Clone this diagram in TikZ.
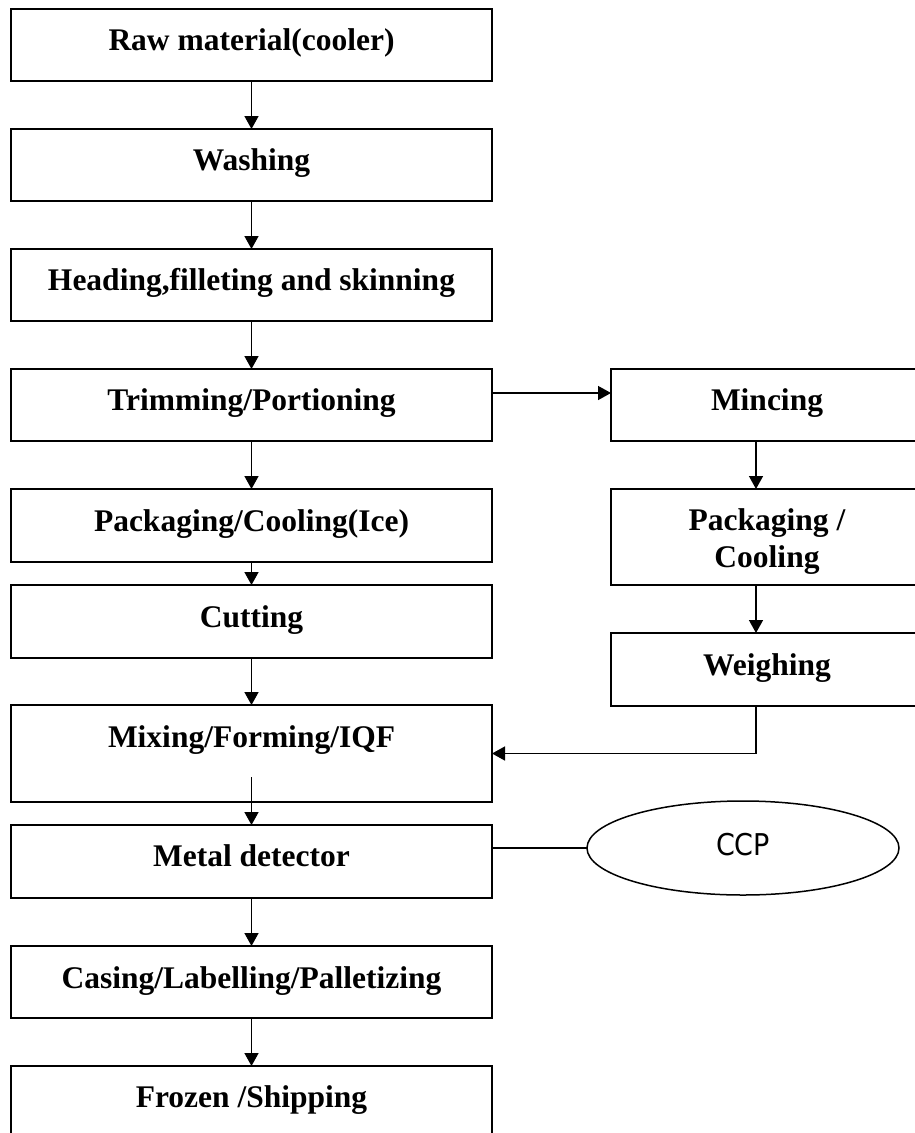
\documentclass[tikz,border=0pt]{standalone}
\usepackage{fontspec}
\setmainfont{Liberation Serif}
\newfontfamily\ccpfont[FakeStretch=0.9]{DejaVu Sans}
\usetikzlibrary{arrows.meta,shapes.geometric}
\tikzset{
  stepbox/.style={draw=black, line width=1.5pt, rectangle, inner sep=0pt, outer sep=0pt},
  lbox/.style={stepbox, minimum width=481pt},
  rbox/.style={stepbox, minimum width=312pt},
  txt/.style={anchor=base, inner sep=0pt, font=\bfseries\fontsize{31.5}{37}\selectfont, align=center},
  arr/.style={line width=1.5pt, -{Triangle[length=13pt,width=14pt]}},
  conn/.style={line width=1.5pt},
}
\begin{document}
\begin{tikzpicture}[x=1pt,y=-1pt]
\useasboundingbox (0,0) rectangle (915,1133);
\clip (0,0) rectangle (915,1133);
% left column boxes
\node[lbox, minimum height=72pt] (b1) at (251.5,45) {};
\node[lbox, minimum height=72pt] (b2) at (251.5,165) {};
\node[lbox, minimum height=72pt] (b3) at (251.5,285) {};
\node[lbox, minimum height=72pt] (b4) at (251.5,405) {};
\node[lbox, minimum height=73pt] (b5) at (251.5,525.5) {};
\node[lbox, minimum height=73pt] (b6) at (251.5,621.5) {};
\node[lbox, minimum height=97pt] (b7) at (251.5,753.5) {};
\node[lbox, minimum height=73pt] (b8) at (251.5,861.5) {};
\node[lbox, minimum height=72pt] (b9) at (251.5,982) {};
\node[lbox, minimum height=72pt] (b10) at (251.5,1102) {};
% right column boxes
\node[rbox, minimum height=72pt] (r1) at (767,405) {};
\node[rbox, minimum height=96pt] (r2) at (767,537) {};
\node[rbox, minimum height=73pt] (r3) at (767,669.5) {};
% ellipse
\node[draw=black, line width=1.5pt, ellipse, minimum width=312pt, minimum height=94pt, inner sep=0pt, outer sep=0pt] (ccp) at (743,848) {};
% texts
\node[txt] (t1) at ([yshift=-41pt]b1.north) {Raw material(cooler)};
\node[txt] (t2) at ([yshift=-41pt]b2.north) {Washing};
\node[txt] (t3) at ([yshift=-41pt]b3.north) {Heading,filleting and skinning};
\node[txt] (t4) at ([yshift=-41pt]b4.north) {Trimming/Portioning};
\node[txt] (t5) at ([yshift=-42pt]b5.north) {Packaging/Cooling(Ice)};
\node[txt] (t6) at ([yshift=-42pt]b6.north) {Cutting};
\node[txt] (t7) at ([yshift=-42pt]b7.north) {Mixing/Forming/IQF};
\node[txt] (t8) at ([yshift=-41pt]b8.north) {Metal detector};
\node[txt] (t9) at ([yshift=-42pt]b9.north) {Casing/Labelling/Palletizing};
\node[txt] (t10) at ([yshift=-41pt]b10.north) {Frozen /Shipping};
\node[txt] (tr1) at ([yshift=-41pt]r1.north) {Mincing};
\node[txt] (tr2) at ([yshift=-78pt]r2.north) {Packaging /\\Cooling};
\node[txt] (tr3) at ([yshift=-42pt]r3.north) {Weighing};
\node[anchor=base, inner sep=0pt, font=\ccpfont\fontsize{30}{36}\selectfont] (tccp) at (743,855) {CCP};
% connectors
\coordinate (rc) at (756,0);
\draw[arr] (b1.south) -- (b2.north);
\draw[arr] (b2.south) -- (b3.north);
\draw[arr] (b3.south) -- (b4.north);
\draw[arr] (b4.south) -- (b5.north);
\draw[arr] (b5.south) -- (b6.north);
\draw[arr] (b6.south) -- (b7.north);
\draw[arr] ([yshift=25pt]b7.south) -- (b8.north);
\draw[arr] (b8.south) -- (b9.north);
\draw[arr] (b9.south) -- (b10.north);
\draw[arr] ([yshift=12pt]b4.east) -- ([yshift=12pt]r1.west);
\draw[arr] (r1.south -| rc) -- (r2.north -| rc);
\draw[arr] (r2.south -| rc) -- (r3.north -| rc);
\draw[arr] (r3.south -| rc) |- (b7.east);
\draw[conn] ([yshift=13.5pt]b8.east) -- (ccp.west);
\end{tikzpicture}
\end{document}
